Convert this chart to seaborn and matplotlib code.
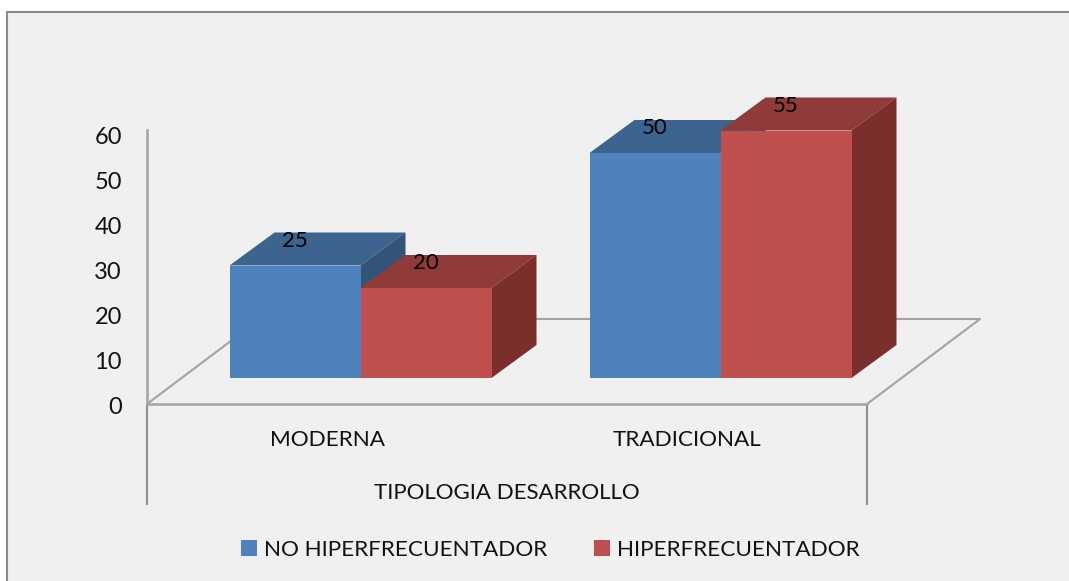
import matplotlib
matplotlib.use("Agg")
import matplotlib.pyplot as plt
from matplotlib.patches import Rectangle
from matplotlib.transforms import ScaledTranslation
import pandas as pd
import seaborn as sns

categories = ["MODERNA", "TRADICIONAL"]
series_names = ["NO HIPERFRECUENTADOR", "HIPERFRECUENTADOR"]
no_hiper = [25, 50]
hiper = [20, 55]
y_ticks = [0, 10, 20, 30, 40, 50, 60]
x_title = "TIPOLOGIA DESARROLLO"

front_colors = ["#4f81bd", "#c0504d"]
top_colors = ["#3d638f", "#8f3b39"]
side_colors = ["#335377", "#7b2f2d"]
line_color = "#a3a3a3"
back_color = "#f0f0f0"

W, H = 1069, 581
PX_X = 360.0   # pixels per category
PX_Y = 4.5     # pixels per unit of value

df = pd.DataFrame({
    "tipo": categories * 2,
    "serie": [series_names[0]] * 2 + [series_names[1]] * 2,
    "valor": no_hiper + hiper,
})

sns.set_theme(style="white")
plt.rcParams["font.family"] = ["Lato", "DejaVu Sans"]

fig = plt.figure(figsize=(W / 100, H / 100), dpi=100, facecolor="white")
fig.add_artist(Rectangle((7 / W, 1 - 700 / H), 1200 / W, (700 - 12) / H,
                         transform=fig.transFigure, facecolor=back_color,
                         edgecolor="#8a8a8a", linewidth=1.5, zorder=-1))

ax = fig.add_axes([147 / W, 1 - 404 / H, 720 / W, 274 / H])
ax.patch.set_alpha(0)

sns.barplot(data=df, x="tipo", y="valor", hue="serie", order=categories,
            hue_order=series_names, palette=front_colors, saturation=1,
            width=262 / PX_X, gap=0, linewidth=0, ax=ax)

ax.set_xlim(-0.5, 1.5)
ax.set_ylim(0, 274 / PX_Y)

# floor of the fake 3d box
floor_dx, floor_dy = 113 / PX_X, 85 / PX_Y
ax.plot([-0.5, -0.5 + floor_dx, 1.5 + floor_dx, 1.5],
        [0, floor_dy, floor_dy, 0], color=line_color, lw=1.5,
        clip_on=False, zorder=1)

# the two long ticks that close the category axis
ax.vlines([-0.5, 1.5], -101 / PX_Y, 0, color="#8f8f8f", lw=1.5, clip_on=False)

# bars sit a bit back on the floor, depth drawn from each bar's own rectangle
shift_x, shift_y = 33.5 / PX_X, 26 / PX_Y
depth_x, depth_y = 45 / PX_X, 33 / PX_Y

for cat_i in range(len(categories)):
    for ser_i, cont in enumerate(ax.containers):
        bar = cont[cat_i]
        bar.set_x(bar.get_x() + shift_x)
        bar.set_y(shift_y)
        x0, x1 = bar.get_x(), bar.get_x() + bar.get_width()
        y0, y1 = bar.get_y(), bar.get_y() + bar.get_height()
        z = 3 + 3 * (cat_i * 2 + ser_i)
        ax.fill([x0, x0 + depth_x, x1 + depth_x, x1],
                [y1, y1 + depth_y, y1 + depth_y, y1],
                color=top_colors[ser_i], lw=0, clip_on=False, zorder=z)
        ax.fill([x1, x1 + depth_x, x1 + depth_x, x1],
                [y0, y0 + depth_y, y1 + depth_y, y1],
                color=side_colors[ser_i], lw=0, clip_on=False, zorder=z + 1)
        bar.set_zorder(z + 2)
        bar.set_clip_on(False)

# labels given by hand, the bars were moved up so the bar's own top is off
for cont, vals in zip(ax.containers, [no_hiper, hiper]):
    labels = ax.bar_label(cont, labels=[str(v) for v in vals], padding=10.5,
                          fontsize=16, color="black", fontfamily="Lato")
    for t in labels:
        t.set_zorder(50)
        t.set_clip_on(False)

ax.set_yticks(y_ticks)
ax.set_ylabel("")
ax.set_xlabel(x_title, fontsize=16, color="#111111", labelpad=23.5)
ax.tick_params(axis="y", length=0, pad=18, labelsize=17, labelcolor="#111111")
ax.tick_params(axis="x", length=0, pad=19, labelsize=16.2, labelcolor="#111111")

# y numbers sit slightly lower than the gridline position
nudge = ScaledTranslation(0, -1.5 / 100, fig.dpi_scale_trans)
for lab in ax.get_yticklabels():
    lab.set_transform(lab.get_transform() + nudge)

sns.despine(ax=ax, top=True, right=True)
for name in ["left", "bottom"]:
    ax.spines[name].set_color(line_color)
    ax.spines[name].set_linewidth(1.8)

sns.move_legend(ax, "center", bbox_to_anchor=(550.5 / W, 1 - 549.5 / H),
                bbox_transform=fig.transFigure, ncol=2, title=None,
                frameon=False, fontsize=16.2, handlelength=0.72,
                handleheight=0.72, handletextpad=0.31, columnspacing=2.08,
                labelcolor="#111111")

fig.savefig("out.png", dpi=100, facecolor=fig.get_facecolor())
